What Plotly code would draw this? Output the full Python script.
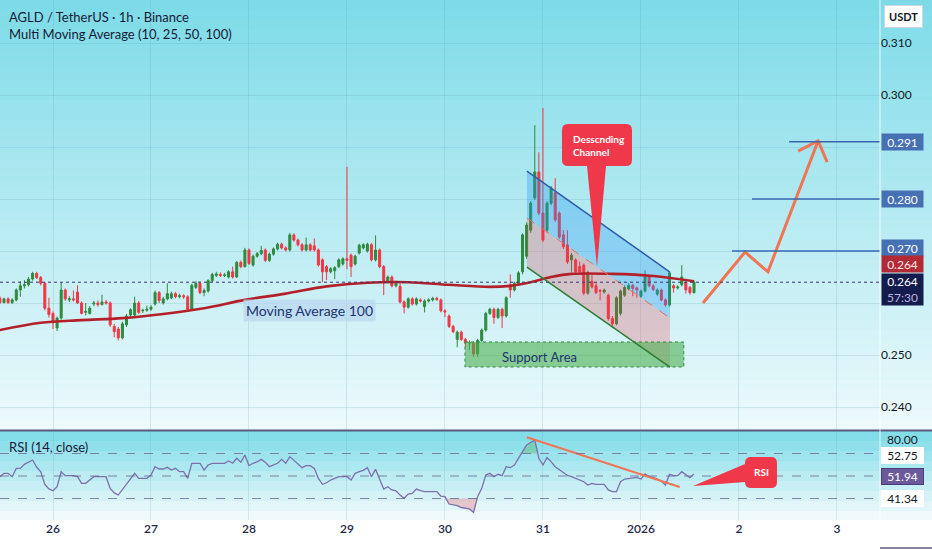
import numpy as np
import pandas as pd
import plotly.graph_objects as go

# ---------------- data ----------------
T0 = pd.Timestamp("2025-12-25 11:00")   # first hourly candle

open_ = [
0.2609,0.2601,0.2608,0.2601,0.2606,0.2625,0.2633,0.2635,0.2646,0.2657,
0.2649,0.2638,0.2590,0.2580,0.2552,0.2571,0.2625,0.2606,0.2608,0.2621,
0.2600,0.2582,0.2580,0.2598,0.2600,0.2597,0.2602,0.2600,0.2555,0.2550,
0.2533,0.2558,0.2577,0.2577,0.2600,0.2585,0.2586,0.2588,0.2598,0.2620,
0.2600,0.2608,0.2610,0.2618,0.2612,0.2614,0.2612,0.2588,0.2630,0.2638,
0.2620,0.2623,0.2643,0.2653,0.2655,0.2653,0.2650,0.2660,0.2650,0.2678,
0.2670,0.2702,0.2673,0.2690,0.2695,0.2702,0.2682,0.2694,0.2704,0.2713,
0.2706,0.2702,0.2731,0.2721,0.2712,0.2702,0.2712,0.2710,0.2702,0.2683,
0.2670,0.2660,0.2662,0.2670,0.2675,0.2685,0.2692,0.2675,0.2696,0.2706,
0.2700,0.2712,0.2683,0.2702,0.2670,0.2641,0.2650,0.2633,0.2632,0.2602,
0.2592,0.2608,0.2598,0.2606,0.2593,0.2604,0.2606,0.2609,0.2606,0.2585,
0.2575,0.2555,0.2530,0.2544,0.2530,0.2523,0.2523,0.2502,0.2528,0.2548,
0.2580,0.2588,0.2572,0.2588,0.2575,0.2635,0.2625,0.2638,0.2660,0.2690,
0.2740,0.2802,0.2852,0.2773,0.2740,0.2792,0.2812,0.2773,0.2731,0.2712,
0.2683,0.2683,0.2670,0.2673,0.2619,0.2642,0.2633,0.2624,0.2621,0.2615,
0.2570,0.2560,0.2580,0.2615,0.2627,0.2634,0.2629,0.2613,0.2623,0.2650,
0.2633,0.2617,0.2625,0.2606,0.2596,0.2633,0.2629,0.2635,0.2640,0.2630,
0.2620]

close = [
0.2601,0.2608,0.2601,0.2606,0.2625,0.2633,0.2635,0.2646,0.2657,0.2649,
0.2638,0.2590,0.2578,0.2562,0.2571,0.2625,0.2608,0.2608,0.2606,0.2600,
0.2580,0.2584,0.2590,0.2600,0.2597,0.2602,0.2600,0.2558,0.2545,0.2533,
0.2560,0.2575,0.2587,0.2600,0.2582,0.2586,0.2588,0.2592,0.2620,0.2605,
0.2608,0.2618,0.2618,0.2612,0.2614,0.2612,0.2588,0.2634,0.2638,0.2620,
0.2624,0.2643,0.2655,0.2656,0.2653,0.2654,0.2660,0.2650,0.2678,0.2670,
0.2702,0.2676,0.2690,0.2695,0.2701,0.2682,0.2694,0.2704,0.2713,0.2706,
0.2702,0.2731,0.2721,0.2712,0.2702,0.2712,0.2702,0.2702,0.2673,0.2660,
0.2660,0.2666,0.2668,0.2683,0.2685,0.2682,0.2670,0.2690,0.2711,0.2712,
0.2713,0.2683,0.2702,0.2670,0.2641,0.2650,0.2633,0.2640,0.2602,0.2592,
0.2608,0.2598,0.2608,0.2604,0.2604,0.2606,0.2609,0.2607,0.2585,0.2583,
0.2555,0.2545,0.2544,0.2530,0.2523,0.2524,0.2502,0.2528,0.2548,0.2580,
0.2588,0.2572,0.2588,0.2575,0.2610,0.2625,0.2638,0.2658,0.2731,0.2750,
0.2792,0.2852,0.2773,0.2721,0.2792,0.2821,0.2760,0.2727,0.2708,0.2679,
0.2692,0.2660,0.2660,0.2619,0.2658,0.2631,0.2620,0.2623,0.2625,0.2570,
0.2560,0.2610,0.2623,0.2630,0.2634,0.2628,0.2625,0.2623,0.2650,0.2633,
0.2626,0.2625,0.2606,0.2596,0.2658,0.2629,0.2631,0.2650,0.2625,0.2620,
0.2640]

high = [
0.2613,0.2610,0.2611,0.2609,0.2628,0.2642,0.2644,0.2650,0.2660,0.2660,
0.2652,0.2640,0.2610,0.2584,0.2574,0.2640,0.2628,0.2613,0.2624,0.2634,
0.2603,0.2600,0.2594,0.2604,0.2605,0.2616,0.2606,0.2603,0.2560,0.2554,
0.2564,0.2579,0.2590,0.2612,0.2604,0.2589,0.2595,0.2596,0.2624,0.2623,
0.2612,0.2638,0.2622,0.2621,0.2618,0.2617,0.2615,0.2637,0.2642,0.2641,
0.2628,0.2646,0.2658,0.2660,0.2659,0.2658,0.2663,0.2670,0.2681,0.2682,
0.2706,0.2705,0.2693,0.2698,0.2710,0.2705,0.2697,0.2707,0.2716,0.2716,
0.2709,0.2735,0.2734,0.2724,0.2715,0.2726,0.2715,0.2724,0.2705,0.2686,
0.2673,0.2669,0.2671,0.2686,0.2688,0.2862,0.2695,0.2693,0.2714,0.2715,
0.2716,0.2715,0.2730,0.2705,0.2673,0.2653,0.2653,0.2643,0.2638,0.2605,
0.2611,0.2611,0.2611,0.2609,0.2607,0.2609,0.2612,0.2612,0.2609,0.2588,
0.2578,0.2558,0.2547,0.2547,0.2533,0.2528,0.2526,0.2531,0.2551,0.2583,
0.2591,0.2591,0.2591,0.2591,0.2613,0.2655,0.2641,0.2661,0.2734,0.2755,
0.2796,0.2942,0.2890,0.2975,0.2796,0.2825,0.2840,0.2776,0.2740,0.2740,
0.2696,0.2686,0.2680,0.2676,0.2662,0.2655,0.2640,0.2627,0.2628,0.2618,
0.2575,0.2613,0.2626,0.2634,0.2638,0.2637,0.2632,0.2626,0.2663,0.2653,
0.2636,0.2628,0.2628,0.2609,0.2661,0.2636,0.2634,0.2673,0.2643,0.2633,
0.2643]

low = [
0.2598,0.2599,0.2598,0.2598,0.2603,0.2612,0.2628,0.2632,0.2643,0.2646,
0.2634,0.2586,0.2572,0.2550,0.2546,0.2568,0.2604,0.2602,0.2603,0.2598,
0.2578,0.2576,0.2578,0.2594,0.2593,0.2595,0.2597,0.2554,0.2534,0.2528,
0.2530,0.2554,0.2573,0.2574,0.2579,0.2581,0.2583,0.2585,0.2595,0.2600,
0.2597,0.2605,0.2607,0.2609,0.2609,0.2608,0.2584,0.2585,0.2627,0.2617,
0.2613,0.2620,0.2640,0.2650,0.2650,0.2650,0.2647,0.2647,0.2648,0.2667,
0.2668,0.2673,0.2670,0.2687,0.2692,0.2679,0.2679,0.2691,0.2701,0.2703,
0.2699,0.2699,0.2718,0.2709,0.2699,0.2699,0.2699,0.2699,0.2670,0.2640,
0.2644,0.2657,0.2646,0.2667,0.2672,0.2665,0.2650,0.2672,0.2693,0.2703,
0.2697,0.2680,0.2680,0.2667,0.2615,0.2638,0.2630,0.2630,0.2599,0.2580,
0.2589,0.2595,0.2595,0.2601,0.2582,0.2601,0.2603,0.2604,0.2582,0.2573,
0.2552,0.2542,0.2515,0.2527,0.2515,0.2510,0.2496,0.2496,0.2525,0.2545,
0.2577,0.2560,0.2569,0.2552,0.2572,0.2610,0.2622,0.2635,0.2655,0.2685,
0.2735,0.2798,0.2769,0.2717,0.2736,0.2788,0.2756,0.2723,0.2704,0.2675,
0.2660,0.2656,0.2656,0.2615,0.2616,0.2628,0.2617,0.2605,0.2618,0.2566,
0.2552,0.2557,0.2576,0.2612,0.2624,0.2613,0.2610,0.2610,0.2620,0.2630,
0.2623,0.2614,0.2603,0.2593,0.2593,0.2620,0.2626,0.2632,0.2618,0.2616,
0.2618]

rsi = [
49.4, 52.4, 52.4, 49.4, 56.8, 56.8, 60.4, 62.0, 64.2, 58.0,
53.8, 42.6, 38.5, 36.9, 40.5, 53.8, 50.3, 50.3, 50.3, 49.4,
43.5, 43.5, 46.5, 49.4, 49.4, 49.4, 49.4, 39.0, 35.0, 33.1,
38.0, 43.5, 48.0, 52.4, 47.9, 47.9, 47.9, 50.9, 58.3, 56.2,
56.2, 57.7, 55.3, 56.8, 53.8, 53.8, 47.9, 61.3, 61.3, 61.3,
55.3, 59.8, 61.3, 61.3, 61.3, 61.3, 63.3, 61.3, 65.7, 62.2,
68.7, 59.2, 61.3, 62.5, 64.8, 62.2, 58.3, 60.0, 61.3, 64.8,
61.3, 67.2, 64.2, 61.0, 57.4, 59.2, 59.2, 56.8, 47.9, 42.6,
44.0, 46.4, 47.9, 49.4, 49.4, 49.4, 46.4, 52.4, 53.8, 55.0,
57.4, 49.4, 55.9, 46.4, 38.4, 40.5, 37.6, 36.9, 33.0, 30.2,
34.0, 34.6, 38.4, 37.0, 36.1, 36.1, 36.1, 36.1, 32.2, 31.6,
25.1, 24.5, 23.6, 22.0, 21.3, 20.7, 17.7, 31.6, 39.0, 50.9,
52.4, 49.4, 51.5, 50.3, 58.3, 57.4, 59.8, 66.3, 71.6, 77.6,
80.0, 82.0, 65.7, 59.8, 66.3, 62.8, 58.3, 55.5, 53.3, 50.5,
49.4, 47.9, 46.5, 44.9, 42.0, 43.5, 42.6, 42.6, 42.6, 37.6,
36.1, 36.1, 44.9, 47.3, 48.0, 48.5, 48.8, 47.3, 51.8, 49.4,
48.8, 47.3, 45.6, 42.0, 51.5, 50.3, 50.3, 53.8, 51.0, 48.5,
51.9]

# 100-period moving average, read at sampled hours
ma100_hour = [0, 10, 20, 30, 40, 50, 60, 70, 80, 90, 100, 110, 120, 125, 130, 135, 140, 150, 160, 170]
ma100 = [0.2548, 0.2562, 0.2567, 0.2571, 0.2579, 0.2590, 0.2606, 0.2618, 0.2632, 0.2639,
         0.2640, 0.2635, 0.2631, 0.2633, 0.2640, 0.2650, 0.2656, 0.2656, 0.2652, 0.2642]

day_ticks = ["2025-12-26", "2025-12-27", "2025-12-28", "2025-12-29", "2025-12-30",
             "2025-12-31", "2026-01-01", "2026-01-02", "2026-01-03"]
day_labels = ["26", "27", "28", "29", "30", "31", "2026", "2", "3"]
price_ticks = [0.24, 0.25, 0.26, 0.27, 0.28, 0.29, 0.30, 0.31]
price_tick_text = ["0.240", "0.250", "", "", "", "", "0.300", "0.310"]  # others hidden by badges
targets = [0.291, 0.280, 0.270]
target_labels = ["0.291", "0.280", "0.270"]
rsi_levels = [70, 50, 30]
rsi_badges = ["52.75", "51.94", "41.34"]
rsi_top_label = "80.00"

# ---------------- helpers ----------------
FONT = "Lato, 'Noto Sans', sans-serif"
W, H = 880.0, 520.0          # plot area in px (margins l=0,t=0,r=52,b=30)


def T(h):
    return T0 + pd.Timedelta(hours=h)


def PX(x):
    return x / W


def PY(y):
    return 1 - y / H


def mix(c1, c2, t):
    return "rgb(%d,%d,%d)" % tuple(round(a + (b - a) * t) for a, b in zip(c1, c2))


times = [T(h) for h in range(len(close))]
n = len(close)

fig = go.Figure()
shapes = []
ann = []

# ------------- background gradients -------------
top_c, bot_c = (124, 219, 232), (238, 250, 252)
for k in range(43):
    y0 = k * 10
    shapes.append(dict(type="rect", xref="paper", yref="paper", x0=-0.01, x1=1.07,
                       y0=PY(y0 + 10.6), y1=PY(y0), fillcolor=mix(top_c, bot_c, (k + 0.5) / 43),
                       line_width=0, layer="below"))
for k in range(9):
    y0 = 431 + k * 10
    shapes.append(dict(type="rect", xref="paper", yref="paper", x0=-0.01, x1=1.07,
                       y0=PY(min(y0 + 10.6, 520)), y1=PY(y0),
                       fillcolor=mix(top_c, (247, 252, 253), (k + 0.5) / 9),
                       line_width=0, layer="below"))

# ------------- drawings under the candles -------------
ch_x = [T(129.07), T(164.1), T(164.1), T(129.07)]
fig.add_trace(go.Scatter(x=ch_x, y=[0.28538, 0.26596, 0.25712, 0.27635], fill="toself",
                         fillcolor="rgba(33,150,243,0.32)", mode="lines", line_width=0,
                         hoverinfo="skip"))
fig.add_trace(go.Scatter(x=ch_x, y=[0.27635, 0.25712, 0.24769, 0.26692], fill="toself",
                         fillcolor="rgba(242,54,69,0.25)", mode="lines", line_width=0,
                         hoverinfo="skip"))
fig.add_trace(go.Scatter(x=[T(113.9), T(167.5), T(167.5), T(113.9), T(113.9)],
                         y=[0.2525, 0.2525, 0.2477, 0.2477, 0.2525], fill="toself",
                         fillcolor="rgba(76,175,80,0.6)", mode="lines",
                         line=dict(color="#2f8a3a", width=1, dash="dot"), hoverinfo="skip"))

# ------------- candles -------------
fig.add_trace(go.Candlestick(
    x=times, open=open_, high=high, low=low, close=close,
    increasing=dict(line=dict(color="#2E8B3E", width=1), fillcolor="#2E8B3E"),
    decreasing=dict(line=dict(color="#F23645", width=1), fillcolor="#F23645"),
    whiskerwidth=0, hoverinfo="skip", xaxis="x", yaxis="y"))

# moving average 100
fig.add_trace(go.Scatter(x=[T(h) for h in ma100_hour], y=ma100, mode="lines",
                         line=dict(color="#B3202A", width=2.6, shape="spline"), hoverinfo="skip"))

# channel lines
fig.add_trace(go.Scatter(x=[T(129.07), T(164.1)], y=[0.28538, 0.26596], mode="lines",
                         line=dict(color="#2F5DA8", width=1.5), hoverinfo="skip"))
fig.add_trace(go.Scatter(x=[T(129.07), T(164.1)], y=[0.27635, 0.25712], mode="lines",
                         line=dict(color="#E8705A", width=1, dash="dash"), hoverinfo="skip"))
fig.add_trace(go.Scatter(x=[T(129.07), T(164.1)], y=[0.26692, 0.24769], mode="lines",
                         line=dict(color="#2E7D32", width=1.5), hoverinfo="skip"))

# projection arrow
fig.add_trace(go.Scatter(x=[T(172.2), T(182.5), T(188.1), T(200.4)],
                         y=[0.2600, 0.2698, 0.2660, 0.2912], mode="lines",
                         line=dict(color="#F07552", width=3), hoverinfo="skip"))
fig.add_trace(go.Scatter(x=[T(195.5), T(200.4), T(202.6)], y=[0.2892, 0.2912, 0.2871],
                         mode="lines", line=dict(color="#F07552", width=3), hoverinfo="skip"))

# ------------- RSI pane -------------
fig.add_trace(go.Scatter(x=times, y=[30] * n, mode="lines", line_width=0,
                         xaxis="x2", yaxis="y2", hoverinfo="skip"))
fig.add_trace(go.Scatter(x=times, y=np.minimum(rsi, 30), mode="lines", line_width=0,
                         fill="tonexty", fillcolor="rgba(242,54,69,0.25)",
                         xaxis="x2", yaxis="y2", hoverinfo="skip"))
fig.add_trace(go.Scatter(x=times, y=[70] * n, mode="lines", line_width=0,
                         xaxis="x2", yaxis="y2", hoverinfo="skip"))
fig.add_trace(go.Scatter(x=times, y=np.maximum(rsi, 70), mode="lines", line_width=0,
                         fill="tonexty", fillcolor="rgba(76,175,80,0.35)",
                         xaxis="x2", yaxis="y2", hoverinfo="skip"))
fig.add_trace(go.Scatter(x=times, y=rsi, mode="lines", line=dict(color="#7D70AC", width=1.3),
                         xaxis="x2", yaxis="y2", hoverinfo="skip"))
fig.add_trace(go.Scatter(x=[T(129.07), T(166.5)], y=[84.4, 40.2], mode="lines",
                         line=dict(color="#F07552", width=2), xaxis="x2", yaxis="y2",
                         hoverinfo="skip"))

for lv in rsi_levels:
    shapes.append(dict(type="line", xref="paper", yref="y2", x0=0, x1=1, y0=lv, y1=lv,
                       line=dict(color="rgba(105,95,140,0.75)", width=1, dash="dash")))

# ------------- lines on the price pane -------------
shapes.append(dict(type="line", xref="paper", yref="y", x0=0, x1=1, y0=close[-1], y1=close[-1],
                   line=dict(color="#3B3470", width=1, dash="dot")))
for val, start in zip(targets, [193.3, 184.2, 179.3]):
    shapes.append(dict(type="line", xref="x", yref="y", x0=T(start), x1=T(230), y0=val, y1=val,
                       line=dict(color="#3A66B0", width=1.5)))

# pane separator and frame lines
shapes.append(dict(type="line", xref="paper", yref="paper", x0=-0.01, x1=1.07,
                   y0=PY(430.5), y1=PY(430.5), line=dict(color="#5D5A7E", width=2)))
shapes.append(dict(type="line", xref="paper", yref="paper", x0=1.0, x1=1.0,
                   y0=PY(520), y1=1, line=dict(color="rgba(255,255,255,0.8)", width=1)))
shapes.append(dict(type="line", xref="paper", yref="paper", x0=1.0, x1=1.07,
                   y0=PY(548), y1=PY(548), line=dict(color="#5D5A7E", width=1.5)))


# ------------- callouts -------------
def path_from(pts):
    out = ""
    for cmd, p in pts:
        if cmd == "Q":
            (ax, ay), (bx, by) = p
            out += "Q%.5f,%.5f %.5f,%.5f " % (PX(ax), PY(ay), PX(bx), PY(by))
        else:
            out += "%s%.5f,%.5f " % (cmd, PX(p[0]), PY(p[1]))
    return out + "Z"


desc = [("M", (568, 124)), ("L", (626, 124)), ("Q", ((632, 124), (632, 130))),
        ("L", (632, 160)), ("Q", ((632, 166), (626, 166))), ("L", (606, 166)),
        ("L", (597, 267)), ("L", (587, 166)), ("L", (568, 166)),
        ("Q", ((562, 166), (562, 160))), ("L", (562, 130)), ("Q", ((562, 124), (568, 124)))]
rsib = [("M", (751, 457)), ("L", (771, 457)), ("Q", ((777, 457), (777, 463))),
        ("L", (777, 482)), ("Q", ((777, 488), (771, 488))), ("L", (751, 488)),
        ("Q", ((745, 488), (745, 482))), ("L", (693, 486)), ("L", (745, 464)),
        ("L", (745, 463)), ("Q", ((745, 457), (751, 457)))]
for p in (desc, rsib):
    shapes.append(dict(type="path", xref="paper", yref="paper", path=path_from(p),
                       fillcolor="#F0384B", line=dict(width=0), layer="above"))

ann.append(dict(xref="paper", yref="paper", x=PX(571), y=PY(145), xanchor="left",
                yanchor="middle", align="left", showarrow=False,
                text="<b>Desscnding<br>Channel</b>", font=dict(size=10, color="white")))
ann.append(dict(xref="paper", yref="paper", x=PX(761), y=PY(472), xanchor="center",
                yanchor="middle", showarrow=False, text="<b>RSI</b>",
                font=dict(size=10, color="white")))

# ------------- text labels -------------
ann.append(dict(xref="paper", yref="paper", x=PX(7), y=PY(17), xanchor="left", yanchor="middle",
                showarrow=False, text="AGLD / TetherUS · 1h · Binance",
                font=dict(size=13, color="#171B36")))
ann.append(dict(xref="paper", yref="paper", x=PX(7), y=PY(34), xanchor="left", yanchor="middle",
                showarrow=False, text="Multi Moving Average (10, 25, 50, 100)",
                font=dict(size=13, color="#171B36")))
ann.append(dict(xref="paper", yref="paper", x=PX(7), y=PY(447), xanchor="left", yanchor="middle",
                showarrow=False, text="RSI (14, close)", font=dict(size=13, color="#171B36")))
ann.append(dict(xref="x", yref="y", x=T(75.9), y=0.2585, showarrow=False,
                text="Moving Average 100", bgcolor="rgba(185,215,240,0.75)", borderpad=2,
                font=dict(size=14, color="#1D3570")))
ann.append(dict(xref="x", yref="y", x=T(122.5), y=0.2496, xanchor="left", showarrow=False,
                text="Support Area", font=dict(size=13, color="#1D3570")))

for val, txt in zip([0.291, 0.280, 0.27067], target_labels):
    ann.append(dict(xref="paper", yref="y", x=1.0, y=val, xanchor="left", xshift=1,
                    showarrow=False, text=txt, bgcolor="#4670B4", width=37, height=12,
                    borderpad=2, font=dict(size=12, color="white")))
ann.append(dict(xref="paper", yref="y", x=1.0, y=0.2675, xanchor="left", xshift=1,
                showarrow=False, text="0.264", bgcolor="#B12A35", width=37, height=12,
                borderpad=2, font=dict(size=12, color="#FFE9EB")))
ann.append(dict(xref="paper", yref="y", x=1.0, y=0.2626, xanchor="left", xshift=1,
                showarrow=False, text="0.264<br><span style='color:#B9B3DA'>57:30</span>",
                bgcolor="#141B4D", width=37, height=27, borderpad=2,
                font=dict(size=12, color="white")))
ann.append(dict(xref="paper", yref="paper", x=PX(903), y=PY(16), xanchor="center",
                yanchor="middle", showarrow=False, text="<b>USDT</b>", bgcolor="white",
                bordercolor="#CFD6DC", borderwidth=1, borderpad=4,
                font=dict(size=11, color="#131722")))

# RSI scale labels
ann.append(dict(xref="paper", yref="paper", x=1.0, y=PY(439), xanchor="left", xshift=5,
                yanchor="middle", showarrow=False, text=rsi_top_label,
                font=dict(size=12, color="#131722")))
for lv, py, txt in zip(rsi_levels, [455.5, 476, 498], rsi_badges):
    purple = txt == "51.94"
    ann.append(dict(xref="paper", yref="paper", x=1.0, y=PY(py), xanchor="left", xshift=1,
                    yanchor="middle", showarrow=False, text=txt, width=37, height=11,
                    borderpad=2, bgcolor="#6A5A9C" if purple else "white",
                    bordercolor="#4A3C7C" if purple else "white", borderwidth=1,
                    font=dict(size=12, color="white" if purple else "#131722")))

# ------------- layout -------------
grid_c = "rgba(90,150,170,0.18)"
fig.update_layout(
    width=932, height=550,
    margin=dict(l=0, r=52, t=0, b=30),
    paper_bgcolor="white", plot_bgcolor="rgba(0,0,0,0)",
    showlegend=False, hovermode=False,
    font=dict(family=FONT, color="#131722"),
    shapes=shapes, annotations=ann,
    xaxis=dict(domain=[0, 1], anchor="y", range=[T(0.02), T(215.55)], type="date",
               rangeslider=dict(visible=False), showticklabels=False,
               tickvals=day_ticks, showgrid=True, gridcolor=grid_c, zeroline=False,
               showline=False),
    xaxis2=dict(domain=[0, 1], anchor="y2", matches="x", type="date",
                range=[T(0.02), T(215.55)], tickvals=day_ticks, ticktext=day_labels,
                showgrid=True, gridcolor=grid_c, ticks="",
                tickfont=dict(size=12, color="#1E2846", weight=600), showline=False),
    yaxis=dict(domain=[1 - 430 / 520, 1], anchor="x", side="right",
               range=[0.23558, 0.31827], tickvals=price_ticks, ticktext=price_tick_text,
               showgrid=True, gridcolor=grid_c, zeroline=False, ticks="",
               tickfont=dict(size=12, color="#131722")),
    yaxis2=dict(domain=[0, 1 - 432 / 520], anchor="x2", side="right",
                range=[10.9, 89.1], showticklabels=False, showgrid=False,
                zeroline=False, ticks=""),
)

fig.write_html("out.html", config={"displayModeBar": False},
               post_script="document.body.style.margin='0';document.body.style.padding='0';")
